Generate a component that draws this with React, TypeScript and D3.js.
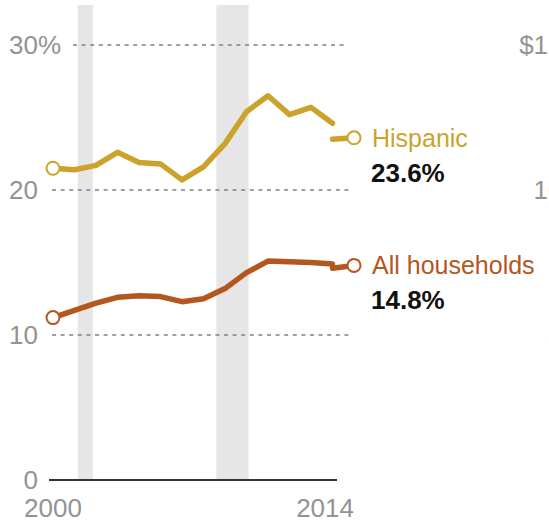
import React from "react";
import * as d3 from "d3";

const width = 549;
const height = 523;

// years on the x axis
const yearsOld = [2000, 2001, 2002, 2003, 2004, 2005, 2006, 2007, 2008, 2009, 2010, 2011, 2012, 2013];
const yearsNew = [2013, 2014];

// share of households, percent
const hispanicOld = [21.5, 21.4, 21.7, 22.6, 21.9, 21.8, 20.7, 21.6, 23.2, 25.4, 26.5, 25.2, 25.7, 24.6];
const hispanicNew = [23.5, 23.6];
const allOld = [11.2, 11.7, 12.2, 12.6, 12.7, 12.65, 12.3, 12.5, 13.2, 14.3, 15.1, 15.05, 15.0, 14.9];
const allNew = [14.6, 14.8];

const recessions = [
  [2001.15, 2001.85],
  [2007.6, 2009.1],
];

const yTicks = [0, 10, 20, 30];
const xLabels = [2000, 2014];
const rightTicks = ["$150", "100", "50"];

const gold = "#CBA32B";
const brown = "#B3571F";
const grey = "#939393";
const font = "'Liberation Sans', Arial, sans-serif";

const x = d3.scaleLinear().domain([2000, 2014]).range([53, 354]);
const y = d3.scaleLinear().domain([0, 30]).range([480, 45]);

const line = d3
  .line<[number, number]>()
  .x((d) => x(d[0]))
  .y((d) => y(d[1]));

const pairs = (xs: number[], vs: number[]) => xs.map((yr, i) => [yr, vs[i]] as [number, number]);

const series = [
  { name: "Hispanic", color: gold, old: hispanicOld, neu: hispanicNew },
  { name: "All households", color: brown, old: allOld, neu: allNew },
];

export default function App() {
  const top = yTicks[yTicks.length - 1];
  return (
    <svg
      width={width}
      height={height}
      style={{ position: "absolute", left: 0, top: 0, background: "#fff" }}
      fontFamily={font}
    >
      {recessions.map((r, i) => (
        <rect key={i} x={x(r[0])} y={5} width={x(r[1]) - x(r[0])} height={y(0) - 5} fill="#e6e6e6" />
      ))}

      {yTicks
        .filter((t) => t > 0)
        .map((t) => (
          <line
            key={t}
            x1={t === top ? 73 : 52}
            x2={t === top ? 347 : 353}
            y1={y(t)}
            y2={y(t)}
            stroke="#808080"
            strokeWidth={1.4}
            strokeDasharray="4 4.6"
          />
        ))}
      <line x1={49} x2={337} y1={y(0)} y2={y(0)} stroke="#333" strokeWidth={2.2} />

      {yTicks.map((t) => (
        <text key={t} x={38} y={y(t) + 9} textAnchor="end" fontSize={26} fill={grey}>
          {t}
        </text>
      ))}
      <text x={38} y={y(top) + 9} fontSize={26} fill={grey}>
        %
      </text>
      <text x={x(xLabels[0])} y={517} textAnchor="middle" fontSize={26} fill={grey}>
        {xLabels[0]}
      </text>
      <text x={x(xLabels[1])} y={517} textAnchor="end" fontSize={26} fill={grey}>
        {xLabels[1]}
      </text>

      {/* tick labels of the neighbouring panel, cut off by the edge */}
      {rightTicks.map((t, i) => (
        <text key={t} x={577} y={y(yTicks[3 - i]) + 9} textAnchor="end" fontSize={26} fill={grey}>
          {t}
        </text>
      ))}

      {series.map((s) => {
        const oldPts = pairs(yearsOld, s.old);
        const newPts = pairs(yearsNew, s.neu);
        const first = oldPts[0];
        const last = newPts[newPts.length - 1];
        return (
          <g key={s.name}>
            <path d={line(oldPts) || ""} fill="none" stroke={s.color} strokeWidth={5.5} strokeLinejoin="round" strokeLinecap="round" />
            <path d={line(newPts) || ""} fill="none" stroke={s.color} strokeWidth={5.5} strokeLinejoin="round" strokeLinecap="round" />
            <circle cx={x(first[0])} cy={y(first[1])} r={6.5} fill="#fff" stroke={s.color} strokeWidth={2} />
            <circle cx={x(last[0])} cy={y(last[1])} r={6.5} fill="#fff" stroke={s.color} strokeWidth={2} />
            <text x={372} y={y(last[1]) + 9} fontSize={25} fill={s.color}>
              {s.name}
            </text>
            <text x={371} y={y(last[1]) + 44} fontSize={26} fontWeight="bold" fill="#111">
              {last[1].toFixed(1)}%
            </text>
          </g>
        );
      })}
    </svg>
  );
}
